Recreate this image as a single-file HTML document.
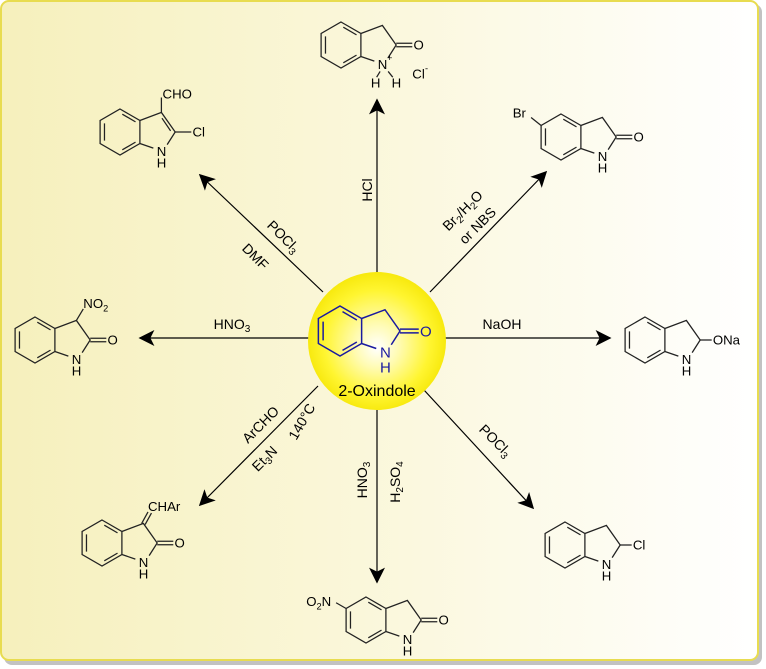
<!DOCTYPE html>
<html><head><meta charset="utf-8"><style>
html,body{margin:0;padding:0;background:#fff;width:766px;height:669px;overflow:hidden}
text{font-family:"Liberation Sans",Arial,sans-serif}
</style></head><body>
<svg width="766" height="669" viewBox="0 0 766 669" xmlns="http://www.w3.org/2000/svg">
<defs>
<linearGradient id="bg" x1="0" y1="0" x2="1" y2="0">
<stop offset="0" stop-color="#f6f0bc"/><stop offset="0.55" stop-color="#fbf8df"/><stop offset="1" stop-color="#ffffff"/>
</linearGradient>
<radialGradient id="sph" cx="0.5" cy="0.5" r="0.55" fx="0.5" fy="0.55">
<stop offset="0" stop-color="#ffffff"/><stop offset="0.3" stop-color="#fffbb0"/><stop offset="0.7" stop-color="#fff530"/><stop offset="1" stop-color="#f4e400"/>
</radialGradient>
<marker id="ah" viewBox="0 0 10 10" refX="9" refY="5" markerWidth="16" markerHeight="16" markerUnits="userSpaceOnUse" orient="auto">
<path d="M0,0 L10,5 L0,10 L2.5,5 Z" fill="#000"/>
</marker>
<g id="benz" fill="none">
<path d="M0,-20 L17.3,-10 L17.3,10 L0,20 L-17.3,10 L-17.3,-10 Z"/>
<path d="M-13.5,-7.5 L-13.5,7.5 M2,-15.5 L13.5,-8.8 M2,15.5 L13.5,8.8"/>
</g>
<g id="ring5" fill="none">
<path d="M17.3,-10 L36,-17 L48,0 L41,11 M17.3,10 L29,14"/>
</g>
</defs>
<rect x="4" y="4" width="758" height="661" rx="8" fill="#9a9a9a" opacity="0.6"/>
<rect x="1" y="1" width="757" height="659" rx="8" fill="url(#bg)" stroke="#e8dc50" stroke-width="2"/>

<g stroke="#000" stroke-width="1.2" marker-end="url(#ah)">
<line x1="377" y1="273" x2="377" y2="100"/>
<line x1="323" y1="292" x2="200" y2="175"/>
<line x1="430" y1="292" x2="546" y2="172"/>
<line x1="309" y1="338" x2="140" y2="338"/>
<line x1="445" y1="338" x2="610" y2="338"/>
<line x1="318" y1="386" x2="200" y2="505"/>
<line x1="377" y1="410" x2="377" y2="582"/>
<line x1="424" y1="390" x2="533" y2="508"/>
</g>

<circle cx="377" cy="341" r="69" fill="url(#sph)"/>
<g transform="translate(340,331) scale(1.25)" stroke="#1a1aa0" stroke-width="1.2">
<use href="#benz"/><use href="#ring5"/>
<path d="M48,-1.5 L63,-1.5 M48,1.5 L63,1.5" fill="none"/>
<text x="64" y="4.5" font-size="12" fill="#1a1aa0" stroke="none">O</text>
<text x="32" y="21" font-size="12" fill="#1a1aa0" stroke="none">N</text>
<text x="32" y="33" font-size="12" fill="#1a1aa0" stroke="none">H</text>
</g>
<text x="377" y="396" font-size="16" text-anchor="middle">2-Oxindole</text>

<g font-size="14">
<text transform="translate(372,190) rotate(-90)" text-anchor="middle">HCl</text>
<text transform="translate(280,240) rotate(45)" text-anchor="middle">POCl<tspan font-size="10" dy="3">3</tspan></text>
<text transform="translate(252,260) rotate(45)" text-anchor="middle">DMF</text>
<text transform="translate(466,214) rotate(-45)" text-anchor="middle">Br<tspan font-size="10" dy="3">2</tspan><tspan dy="-3">/H</tspan><tspan font-size="10" dy="3">2</tspan><tspan dy="-3">O</tspan></text>
<text transform="translate(481,229) rotate(-45)" text-anchor="middle">or NBS</text>
<text x="232" y="329" text-anchor="middle">HNO<tspan font-size="10" dy="3">3</tspan></text>
<text x="502" y="329" text-anchor="middle">NaOH</text>
<text transform="translate(264,428) rotate(-45)" text-anchor="middle">ArCHO</text>
<text transform="translate(268,462) rotate(-45)" text-anchor="middle">Et<tspan font-size="10" dy="3">3</tspan><tspan dy="-3">N</tspan></text>
<text transform="translate(306,424) rotate(-60)" text-anchor="middle">140°C</text>
<text transform="translate(367,480) rotate(-90)" text-anchor="middle">HNO<tspan font-size="10" dy="3">3</tspan></text>
<text transform="translate(400,482) rotate(-90)" text-anchor="middle">H<tspan font-size="10" dy="3">2</tspan><tspan dy="-3">SO</tspan><tspan font-size="10" dy="3">4</tspan></text>
<text transform="translate(492,444) rotate(45)" text-anchor="middle">POCl<tspan font-size="10" dy="3">3</tspan></text>
</g>

<g stroke="#222" stroke-width="1.1" font-size="11.5">
<g transform="translate(341,45) scale(1.15)">
<use href="#benz"/><use href="#ring5"/>
<path d="M48,-1.5 L62,-1.5 M48,1.5 L62,1.5"/>
<text x="63" y="4" stroke="none">O</text>
<text x="32" y="21" stroke="none">N</text><text x="40" y="14" stroke="none" font-size="8">+</text>
<path d="M34,23 L31,28 M41,23 L45,28"/>
<text x="26" y="37" stroke="none">H</text><text x="44" y="37" stroke="none">H</text>
<text x="62" y="29" stroke="none">Cl</text><text x="73" y="23" stroke="none" font-size="8">-</text>
</g>
<g transform="translate(120,132) scale(1.15)">
<use href="#benz"/>
<path d="M17.3,-10 L36,-17 L48,0 L41,11 M17.3,10 L29,14 M36.5,-12 L44,-1" fill="none"/>
<path d="M36,-17 L36,-30 M48,0 L62,0"/>
<text x="37" y="-29" stroke="none">CHO</text>
<text x="63" y="4" stroke="none">Cl</text>
<text x="32" y="21" stroke="none">N</text><text x="32" y="31" stroke="none">H</text>
</g>
<g transform="translate(561,137) scale(1.15)">
<use href="#benz"/><use href="#ring5"/>
<path d="M48,-1.5 L62,-1.5 M48,1.5 L62,1.5 M-17.3,-10 L-26,-17"/>
<text x="63" y="4" stroke="none">O</text>
<text x="-42" y="-17" stroke="none">Br</text>
<text x="32" y="21" stroke="none">N</text><text x="32" y="31" stroke="none">H</text>
</g>
<g transform="translate(35,340) scale(1.15)">
<use href="#benz"/><use href="#ring5"/>
<path d="M48,-1.5 L62,-1.5 M48,1.5 L62,1.5 M36,-17 L42,-27"/>
<text x="63" y="4" stroke="none">O</text>
<text x="42" y="-28" stroke="none">NO<tspan font-size="8" dy="3">2</tspan></text>
<text x="32" y="21" stroke="none">N</text><text x="32" y="31" stroke="none">H</text>
</g>
<g transform="translate(645,340) scale(1.15)">
<use href="#benz"/><use href="#ring5"/>
<path d="M48,0 L58,0"/>
<text x="59" y="4" stroke="none">ONa</text>
<text x="32" y="21" stroke="none">N</text><text x="32" y="31" stroke="none">H</text>
</g>
<g transform="translate(102,543) scale(1.15)">
<use href="#benz"/><use href="#ring5"/>
<path d="M48,-1.5 L62,-1.5 M48,1.5 L62,1.5 M34.5,-17 L40,-27 M37.5,-16 L43,-26"/>
<text x="63" y="4" stroke="none">O</text>
<text x="40" y="-28" stroke="none">CHAr</text>
<text x="32" y="21" stroke="none">N</text><text x="32" y="31" stroke="none">H</text>
</g>
<g transform="translate(366,620) scale(1.15)">
<use href="#benz"/><use href="#ring5"/>
<path d="M48,-1.5 L62,-1.5 M48,1.5 L62,1.5 M-17.3,-10 L-26,-15"/>
<text x="63" y="4" stroke="none">O</text>
<text x="-52" y="-12" stroke="none">O<tspan font-size="8" dy="3">2</tspan><tspan dy="-3">N</tspan></text>
<text x="32" y="21" stroke="none">N</text><text x="32" y="31" stroke="none">H</text>
</g>
<g transform="translate(565,545) scale(1.15)">
<use href="#benz"/><use href="#ring5"/>
<path d="M48,0 L58,0"/>
<text x="59" y="4" stroke="none">Cl</text>
<text x="32" y="21" stroke="none">N</text><text x="32" y="31" stroke="none">H</text>
</g>
</g>
</svg>
</body></html>
